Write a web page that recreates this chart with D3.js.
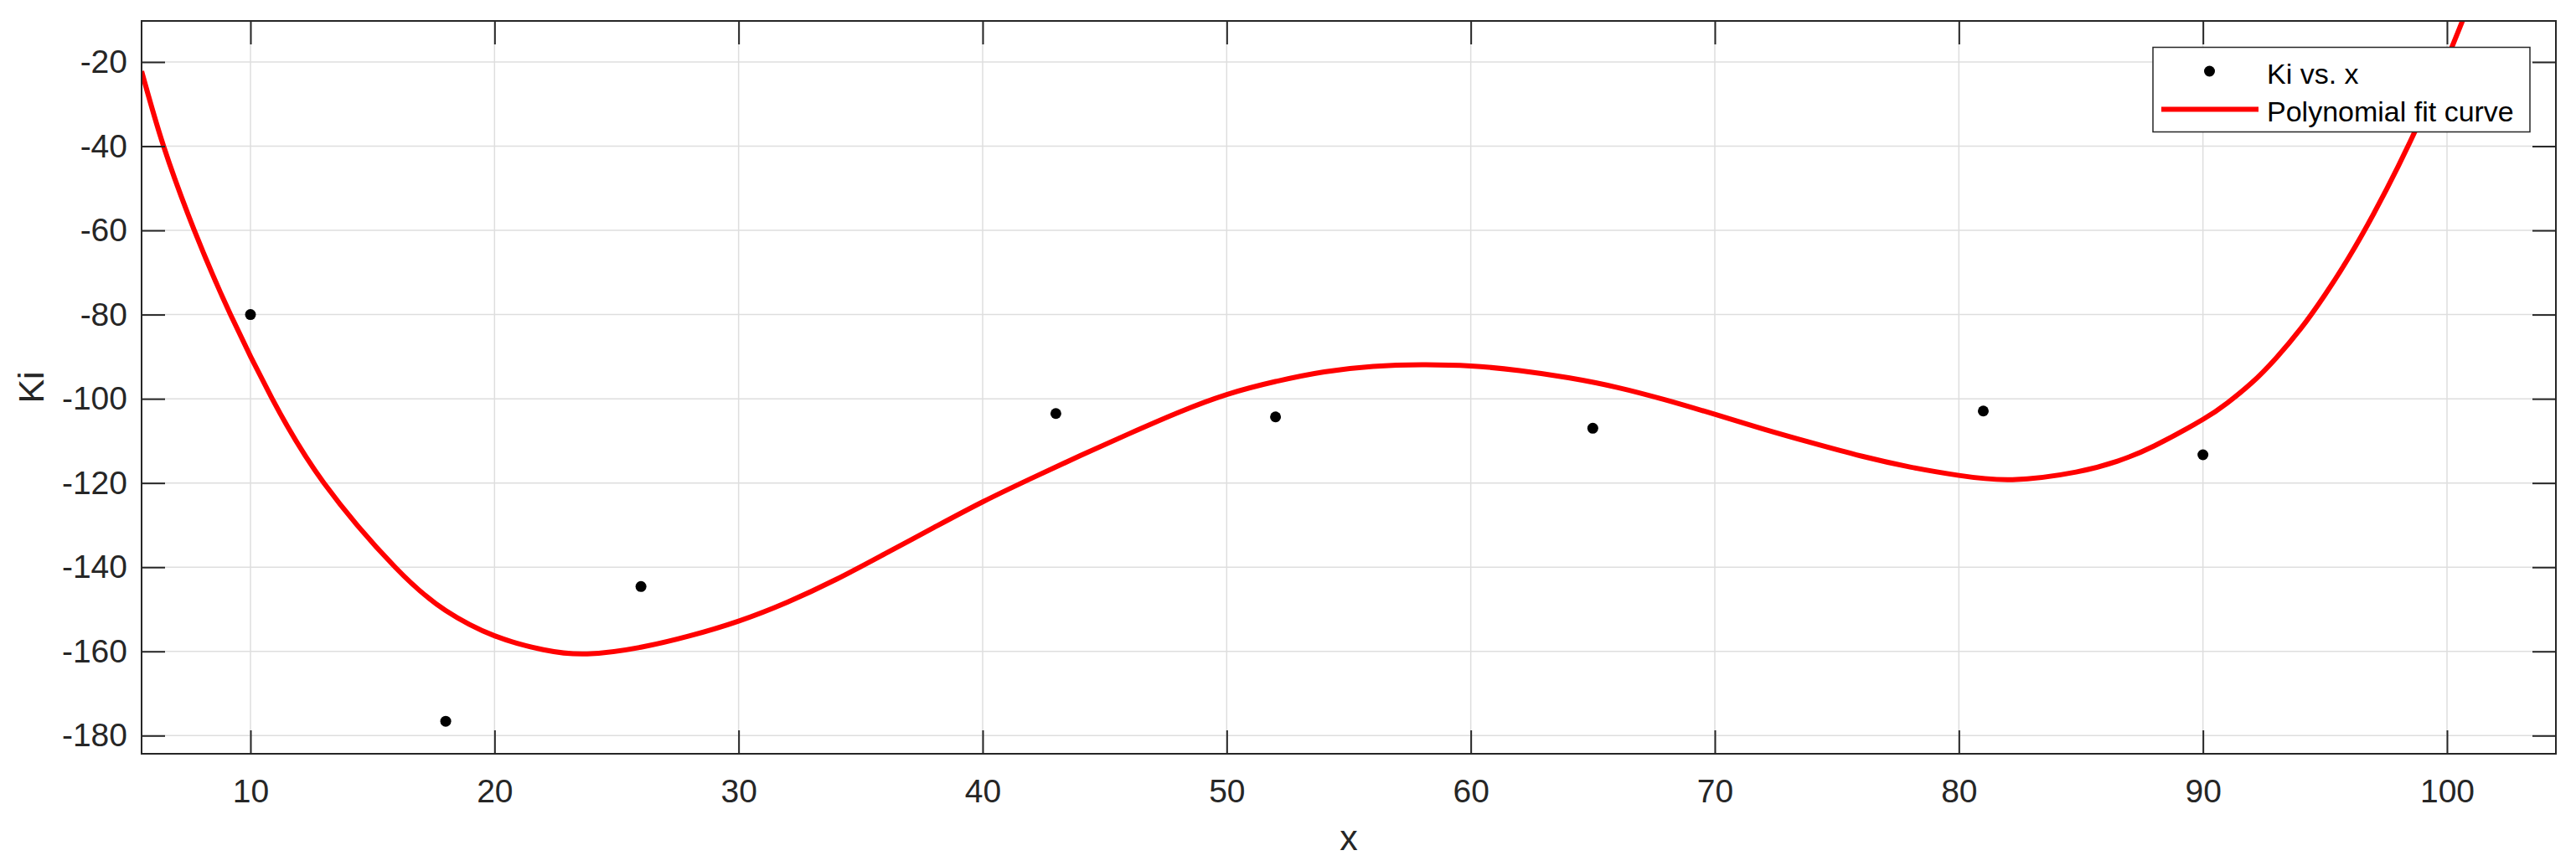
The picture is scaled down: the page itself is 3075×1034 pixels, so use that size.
<!DOCTYPE html>
<html>
<head>
<meta charset="utf-8">
<script src="https://cdn.jsdelivr.net/npm/d3@7"></script>
<style>
  html, body { margin: 0; padding: 0; background: #fff; }
  svg { display: block; font-family: "Liberation Sans", Arial, Helvetica, sans-serif; }
</style>
</head>
<body>
<svg id="chart" width="3075" height="1034"></svg>
<script>
// ---- data ----
const xData  = [10, 18, 26, 43, 52, 65, 81, 90];
const kiData = [-80, -176.6, -144.6, -103.5, -104.3, -107.0, -102.9, -113.3];

// points
const fitX = [5.54, 6.44, 7.7, 9.18, 10.89, 13.01, 15.93, 18, 20, 22, 23.8,
              26, 28, 30, 32, 34, 36, 38, 40, 42, 44, 46, 48, 50, 52, 54, 56, 58,
              60, 62, 64, 66, 68, 70, 72, 74, 76, 78, 80, 82.2, 84.8, 86.5, 88, 90,
              91, 92, 93, 94, 95, 96, 97, 98, 99, 100, 101];
const fitY = [-22.2, -40, -60, -80, -100, -120, -140, -150.3, -156.3, -159.6, -160.6,
              -159.0, -156.3, -152.8, -148.3, -142.9, -136.8, -130.6, -124.5, -118.9, -113.5, -108.3, -103.3, -99.0, -95.9, -93.6, -92.3, -91.9,
              -92.2, -93.3, -95.0, -97.3, -100.3, -103.7, -107.2, -110.5, -113.6, -116.2, -118.2, -119.2, -117.4, -114.8, -111.2, -104.9,
              -101.0, -96.2, -90.3, -83.4, -75.3, -66.2, -56.0, -44.8, -32.6, -19.3, -4.9];

const xTicks = [10, 20, 30, 40, 50, 60, 70, 80, 90, 100];
const yTicks = [-180, -160, -140, -120, -100, -80, -60, -40, -20];
const xDomain = [5.538, 104.462];
const yDomain = [-184.32, -10.25];

const legendLabels = ["Ki vs. x", "Polynomial fit curve"];
const xLabel = "x";
const yLabel = "Ki";

// ---- layout ----
const L = 169, T = 25, R = 3051, B = 900;
const W = R - L, H = B - T;
const axisColor = "#262626";
const tickLen = 28;

const svg = d3.select("#chart");
const x = d3.scaleLinear().domain(xDomain).range([L, R]);
const y = d3.scaleLinear().domain(yDomain).range([B, T]);
const fmt = d => String(d);   // plain hyphen-minus like the reference

svg.append("rect").attr("x", 0).attr("y", 0).attr("width", 3075).attr("height", 1034).attr("fill", "#fff");

// grid
const grid = svg.append("g").attr("stroke", "#dedede").attr("stroke-width", 1.5);
grid.selectAll("line.gx").data(xTicks).join("line").attr("class", "gx")
  .attr("x1", d => x(d)).attr("x2", d => x(d)).attr("y1", T).attr("y2", B);
grid.selectAll("line.gy").data(yTicks).join("line").attr("class", "gy")
  .attr("x1", L).attr("x2", R).attr("y1", d => y(d)).attr("y2", d => y(d));

// clip
svg.append("clipPath").attr("id", "plotclip")
  .append("rect").attr("x", L).attr("y", T).attr("width", W).attr("height", H);

// fit curve
const fitData = fitX.map((d, i) => [d, fitY[i]]);
const line = d3.line().x(d => x(d[0])).y(d => y(d[1])).curve(d3.curveNatural);
svg.append("path")
  .attr("clip-path", "url(#plotclip)")
  .attr("d", line(fitData))
  .attr("fill", "none")
  .attr("stroke", "#ff0000")
  .attr("stroke-width", 6)
  .attr("stroke-linejoin", "round");

// data points
svg.append("g").selectAll("circle").data(xData.map((d, i) => [d, kiData[i]])).join("circle")
  .attr("cx", d => x(d[0])).attr("cy", d => y(d[1])).attr("r", 6.5).attr("fill", "#000");

// axes
function styleAxis(g) {
  g.select(".domain").remove();
  g.selectAll(".tick line").attr("stroke", axisColor).attr("stroke-width", 2);
  g.selectAll(".tick text").attr("fill", axisColor).attr("font-size", 39)
    .attr("font-family", '"Liberation Sans", Arial, Helvetica, sans-serif');
}
svg.append("g").attr("transform", `translate(0,${B})`)
  .call(d3.axisBottom(x).tickValues(xTicks).tickSize(-tickLen).tickSizeOuter(0).tickPadding(30.5).tickFormat(fmt))
  .call(styleAxis);
svg.append("g").attr("transform", `translate(0,${T})`)
  .call(d3.axisTop(x).tickValues(xTicks).tickSize(-tickLen).tickSizeOuter(0).tickFormat(""))
  .call(styleAxis);
svg.append("g").attr("transform", `translate(${L},0)`)
  .call(d3.axisLeft(y).tickValues(yTicks).tickSize(-tickLen).tickSizeOuter(0).tickPadding(17).tickFormat(fmt))
  .call(styleAxis);
svg.append("g").attr("transform", `translate(${R},0)`)
  .call(d3.axisRight(y).tickValues(yTicks).tickSize(-tickLen).tickSizeOuter(0).tickFormat(""))
  .call(styleAxis);

// box
svg.append("rect").attr("x", L).attr("y", T).attr("width", W).attr("height", H)
  .attr("fill", "none").attr("stroke", axisColor).attr("stroke-width", 2);

// axis labels
svg.append("text").attr("x", (L + R) / 2).attr("y", 1015).attr("text-anchor", "middle")
  .attr("font-size", 43).attr("fill", axisColor).text(xLabel);
svg.append("text").attr("transform", `translate(52,${(T + B) / 2}) rotate(-90)`)
  .attr("text-anchor", "middle").attr("font-size", 43).attr("fill", axisColor).text(yLabel);

// legend
const lg = svg.append("g");
lg.append("rect").attr("x", 2570).attr("y", 56.5).attr("width", 450).attr("height", 101)
  .attr("fill", "#fff").attr("stroke", axisColor).attr("stroke-width", 1.5);
lg.append("circle").attr("cx", 2637.5).attr("cy", 85).attr("r", 6.5).attr("fill", "#000");
lg.append("line").attr("x1", 2580).attr("x2", 2696).attr("y1", 130.5).attr("y2", 130.5)
  .attr("stroke", "#ff0000").attr("stroke-width", 6);
lg.selectAll("text").data(legendLabels).join("text")
  .attr("x", 2706).attr("y", (d, i) => 100 + i * 45)
  .attr("font-size", 34).attr("fill", "#000").text(d => d);
</script>
</body>
</html>
